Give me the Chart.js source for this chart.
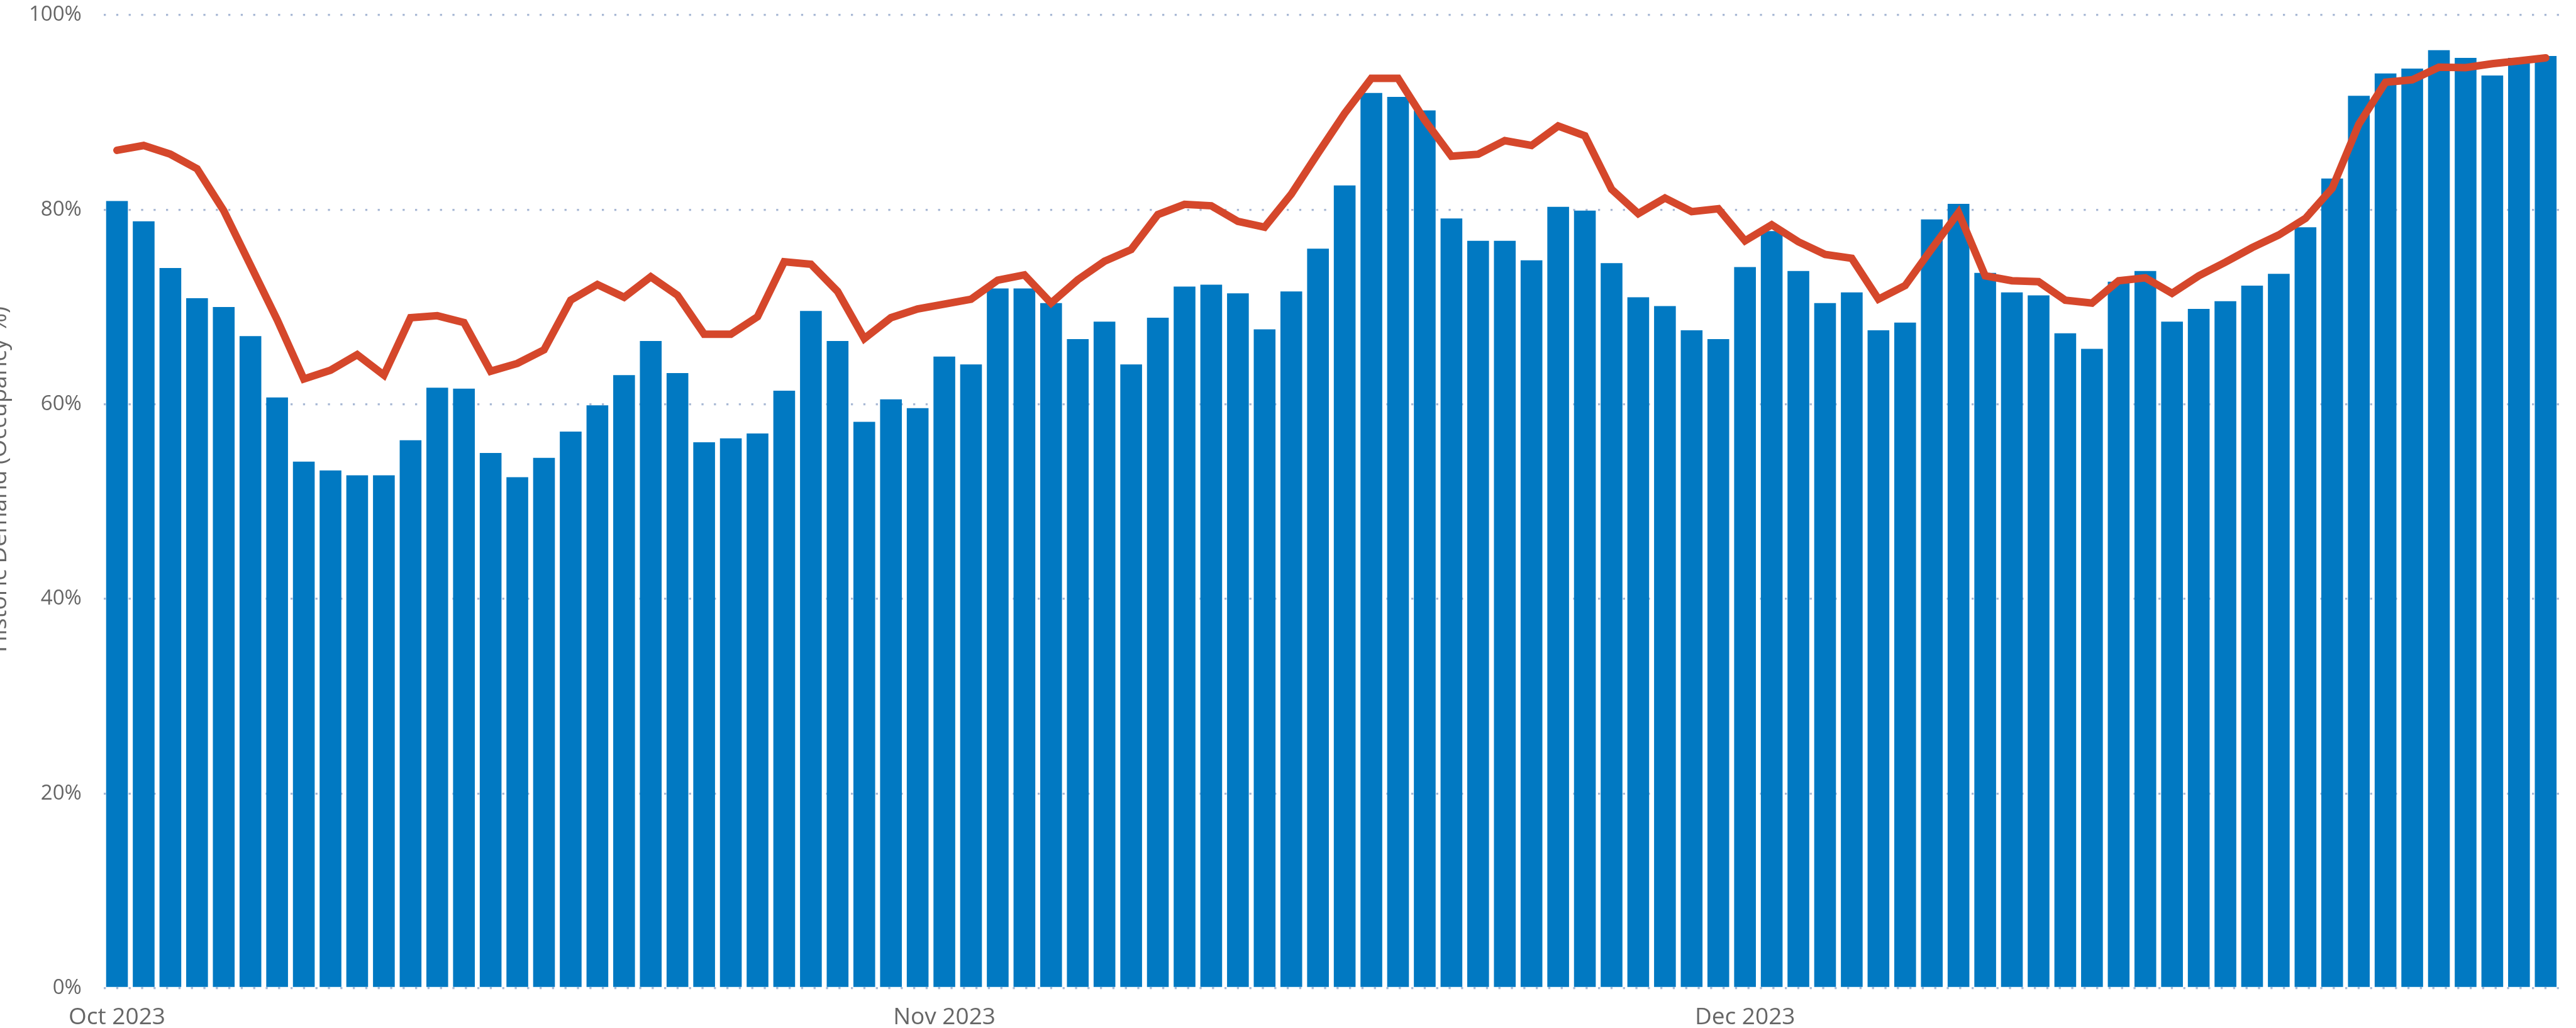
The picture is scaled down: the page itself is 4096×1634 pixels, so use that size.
<!DOCTYPE html>
<html>
<head>
<meta charset="utf-8">
<script src="https://cdn.jsdelivr.net/npm/chart.js@4.4.1/dist/chart.umd.min.js"></script>
<style>
  html, body { margin: 0; padding: 0; background: #ffffff; overflow: hidden; }
  #wrap { position: relative; width: 4096px; height: 1634px; }
</style>
</head>
<body>
<div id="wrap"><canvas id="c" width="4096" height="1634"></canvas></div>
<script>
// ---- Data ----
const categories = [
  'Oct 1','Oct 2','Oct 3','Oct 4','Oct 5','Oct 6','Oct 7','Oct 8','Oct 9','Oct 10',
  'Oct 11','Oct 12','Oct 13','Oct 14','Oct 15','Oct 16','Oct 17','Oct 18','Oct 19','Oct 20',
  'Oct 21','Oct 22','Oct 23','Oct 24','Oct 25','Oct 26','Oct 27','Oct 28','Oct 29','Oct 30','Oct 31',
  'Nov 1','Nov 2','Nov 3','Nov 4','Nov 5','Nov 6','Nov 7','Nov 8','Nov 9','Nov 10',
  'Nov 11','Nov 12','Nov 13','Nov 14','Nov 15','Nov 16','Nov 17','Nov 18','Nov 19','Nov 20',
  'Nov 21','Nov 22','Nov 23','Nov 24','Nov 25','Nov 26','Nov 27','Nov 28','Nov 29','Nov 30',
  'Dec 1','Dec 2','Dec 3','Dec 4','Dec 5','Dec 6','Dec 7','Dec 8','Dec 9','Dec 10',
  'Dec 11','Dec 12','Dec 13','Dec 14','Dec 15','Dec 16','Dec 17','Dec 18','Dec 19','Dec 20',
  'Dec 21','Dec 22','Dec 23','Dec 24','Dec 25','Dec 26','Dec 27','Dec 28','Dec 29','Dec 30','Dec 31'
];

const occupancyBars = [
  // Oct
  80.9, 78.8, 74.0, 70.9, 70.0, 67.0, 60.7, 54.1, 53.2, 52.7,
  52.7, 56.3, 61.7, 61.6, 55.0, 52.5, 54.5, 57.2, 59.9, 63.0,
  66.5, 63.2, 56.1, 56.5, 57.0, 61.4, 69.6, 66.5, 58.2, 60.5, 59.6,
  // Nov
  64.9, 64.1, 71.9, 71.9, 70.4, 66.7, 68.5, 64.1, 68.9, 72.1,
  72.3, 71.4, 67.7, 71.6, 76.0, 82.5, 92.0, 91.6, 90.2, 79.1,
  76.8, 76.8, 74.8, 80.3, 79.9, 74.5, 71.0, 70.1, 67.6, 66.7,
  // Dec
  74.1, 77.8, 73.7, 70.4, 71.5, 67.6, 68.4, 79.0, 80.6, 73.5,
  71.5, 71.2, 67.3, 65.7, 72.6, 73.7, 68.5, 69.8, 70.6, 72.2,
  73.4, 78.2, 83.2, 91.7, 94.0, 94.5, 96.4, 95.6, 93.8, 95.6, 95.8
];

const occupancyLine = [
  // Oct
  86.1, 86.6, 85.7, 84.2, 79.9, 74.3, 68.7, 62.6, 63.5, 65.1,
  63.0, 68.9, 69.1, 68.4, 63.4, 64.2, 65.6, 70.7, 72.3, 71.0,
  73.1, 71.2, 67.2, 67.2, 69.0, 74.65, 74.4, 71.6, 66.75, 68.9, 69.8,
  // Nov
  70.3, 70.8, 72.75, 73.3, 70.4, 72.8, 74.7, 75.9, 79.5, 80.55,
  80.4, 78.8, 78.2, 81.6, 85.8, 89.9, 93.5, 93.5, 89.2, 85.5,
  85.7, 87.1, 86.6, 88.6, 87.6, 82.1, 79.6, 81.2, 79.8, 80.1,
  // Dec
  76.8, 78.45, 76.7, 75.4, 75.0, 70.8, 72.2, 76.0, 79.7, 73.2,
  72.7, 72.6, 70.7, 70.4, 72.7, 73.0, 71.4, 73.2, 74.6, 76.1,
  77.4, 79.1, 82.2, 88.8, 93.1, 93.35, 94.65, 94.6, 95.0, 95.3, 95.6
];

const monthTickIndex = [0, 31, 61];
const monthTickText = ['Oct 2023', 'Nov 2023', 'Dec 2023'];
const yTickValues = [0, 20, 40, 60, 80, 100];
const yAxisTitle = 'Historic Demand (Occupancy %)';

// ---- Styles ----
const FONT = "'Segoe UI', 'Open Sans', sans-serif";
const TEXT_COLOR = '#666666';
const BAR_COLOR = '#0179C2';
const LINE_COLOR = '#D5472B';
const GRID_COLOR = '#A9B9D5';

const yTitlePlugin = {
  id: 'yTitle',
  afterDraw(chart) {
    const ctx = chart.ctx;
    ctx.save();
    ctx.translate(10.3, 762);
    ctx.rotate(-Math.PI / 2);
    ctx.font = '37px ' + FONT;
    ctx.fillStyle = TEXT_COLOR;
    ctx.textAlign = 'center';
    ctx.textBaseline = 'alphabetic';
    ctx.fillText(yAxisTitle, 0, 0);
    ctx.restore();
  }
};

new Chart(document.getElementById('c'), {
  data: {
    labels: categories,
    datasets: [
      {
        type: 'line',
        label: 'Trend',
        data: occupancyLine,
        borderColor: LINE_COLOR,
        borderWidth: 12,
        borderCapStyle: 'round',
        borderJoinStyle: 'miter',
        pointRadius: 0,
        pointHoverRadius: 0,
        tension: 0,
        fill: false,
        order: 0
      },
      {
        type: 'bar',
        label: 'Occupancy',
        data: occupancyBars,
        backgroundColor: BAR_COLOR,
        borderWidth: 0,
        categoryPercentage: 1.0,
        barPercentage: 0.815,
        order: 1
      }
    ]
  },
  options: {
    responsive: false,
    animation: false,
    devicePixelRatio: 1,
    layout: { padding: { top: 24, right: 27, left: 0, bottom: 0 } },
    plugins: {
      legend: { display: false },
      tooltip: { enabled: false },
      title: { display: false }
    },
    scales: {
      x: {
        type: 'category',
        grid: { display: false, drawTicks: false },
        border: { display: false },
        ticks: {
          autoSkip: false,
          maxRotation: 0,
          minRotation: 0,
          padding: 25,
          color: TEXT_COLOR,
          font: { family: FONT, size: 37 },
          callback: function (value, index) {
            const k = monthTickIndex.indexOf(index);
            return k >= 0 ? monthTickText[k] : '';
          }
        },
        afterFit: function (scale) {
          scale.height = 63.5;
          scale.paddingLeft = 0;
          scale.paddingRight = 0;
        }
      },
      y: {
        min: 0,
        max: 100,
        afterBuildTicks: function (scale) {
          scale.ticks = yTickValues.map(v => ({ value: v }));
        },
        grid: {
          color: GRID_COLOR,
          lineWidth: 3.3,
          drawTicks: false
        },
        border: { display: false, dash: [3.3, 16.5] },
        ticks: {
          padding: 35,
          color: TEXT_COLOR,
          font: { family: FONT, size: 33 },
          callback: function (v) { return v + '%'; }
        },
        afterFit: function (scale) {
          scale.width = 164.8;
          scale.paddingTop = 0;
          scale.paddingBottom = 0;
        }
      }
    }
  },
  plugins: [yTitlePlugin]
});
</script>
</body>
</html>
